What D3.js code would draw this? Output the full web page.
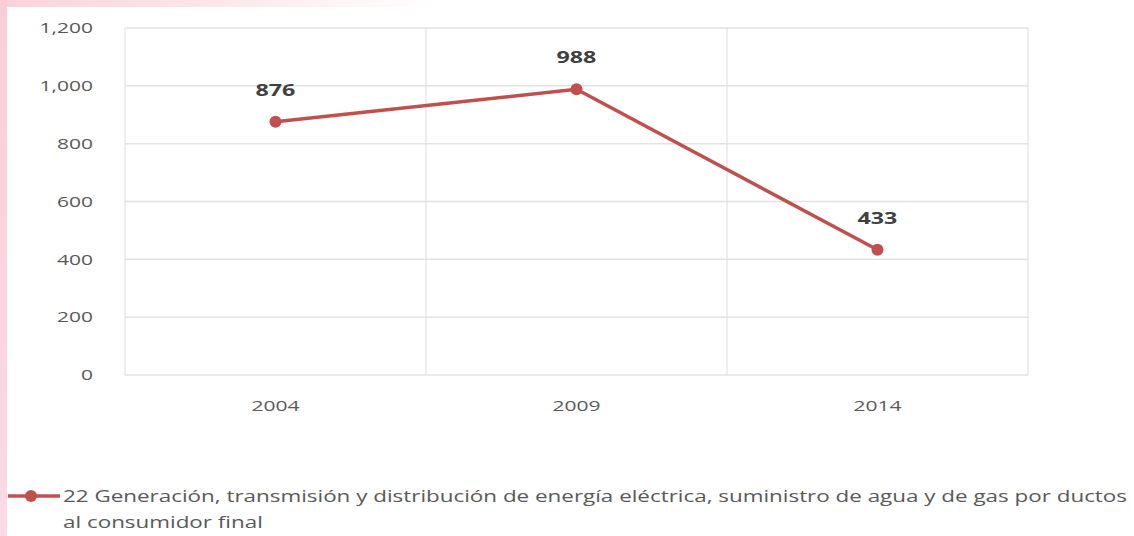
<!DOCTYPE html>
<html>
<head>
<meta charset="utf-8">
<script src="https://cdn.jsdelivr.net/npm/d3@7"></script>
<style>
  body { margin: 0; background: #fff; }
  svg { display: block; font-family: "Open Sans", "Noto Sans", sans-serif; }
</style>
</head>
<body>
<div id="chart"></div>
<script>
// Data
var years = ["2004", "2009", "2014"];
var values = [876, 988, 433];
var yTicks = [0, 200, 400, 600, 800, 1000, 1200];
var seriesName = "22 Generación, transmisión y distribución de energía eléctrica, suministro de agua y de gas por ductos";
var seriesName2 = "al consumidor final";

var W = 1134, H = 536;
var margin = { top: 28, right: 106, bottom: 161, left: 125 };
var width = W - margin.left - margin.right;
var height = H - margin.top - margin.bottom;
var lineColor = "#c0504d";

// the picture's text is drawn wide, so stretch glyphs sideways
function stretch(sel, k) {
  sel.each(function() {
    var len = this.getComputedTextLength();
    d3.select(this)
      .attr("textLength", len * k)
      .attr("lengthAdjust", "spacingAndGlyphs");
  });
}

var svg = d3.select("#chart").append("svg")
  .attr("width", W)
  .attr("height", H);

// pinkish edges of the page
var defs = svg.append("defs");
var gTop = defs.append("linearGradient").attr("id", "topFade").attr("x1", 0).attr("x2", 1);
gTop.append("stop").attr("offset", "0%").attr("stop-color", "#f9d3da");
gTop.append("stop").attr("offset", "40%").attr("stop-color", "#fbe3e7");
gTop.append("stop").attr("offset", "100%").attr("stop-color", "#ffffff");
var gLeft = defs.append("linearGradient").attr("id", "leftFade").attr("x1", 0).attr("x2", 0).attr("y1", 0).attr("y2", 1);
gLeft.append("stop").attr("offset", "0%").attr("stop-color", "#f8cfd6");
gLeft.append("stop").attr("offset", "100%").attr("stop-color", "#fbd9e6");

svg.append("rect").attr("x", 0).attr("y", 0).attr("width", 440).attr("height", 7).attr("fill", "url(#topFade)");
svg.append("rect").attr("x", 0).attr("y", 0).attr("width", 7).attr("height", H).attr("fill", "url(#leftFade)");

var g = svg.append("g").attr("transform", "translate(" + margin.left + "," + margin.top + ")");

var x = d3.scaleBand().domain(years).range([0, width]);
var y = d3.scaleLinear().domain([0, 1200]).range([height, 0]);

// horizontal grid
g.selectAll(".hgrid").data(yTicks).enter().append("line")
  .attr("class", "hgrid")
  .attr("x1", 0).attr("x2", width)
  .attr("y1", function(d) { return y(d); })
  .attr("y2", function(d) { return y(d); })
  .style("stroke", "#e3e3e3")
  .style("stroke-width", "1.5px");

// vertical grid at category boundaries
var bounds = [0].concat(years.map(function(d) { return x(d) + x.bandwidth(); }));
g.selectAll(".vgrid").data(bounds).enter().append("line")
  .attr("class", "vgrid")
  .attr("x1", function(d) { return d; }).attr("x2", function(d) { return d; })
  .attr("y1", 0).attr("y2", height)
  .style("stroke", "#dcdcdc")
  .style("stroke-width", "1px");

// y axis labels
var yAxis = g.append("g")
  .attr("transform", "translate(-32,0)")
  .call(d3.axisLeft(y).tickValues(yTicks).tickSize(0).tickFormat(d3.format(",")));
yAxis.select(".domain").remove();
yAxis.selectAll("text")
  .attr("x", 0)
  .style("font-family", "'Open Sans', sans-serif")
  .style("font-size", "15px")
  .style("fill", "#595959")
  .call(stretch, 1.4);

// x axis labels
var xAxis = g.append("g")
  .attr("transform", "translate(0," + (height + 22) + ")")
  .call(d3.axisBottom(x).tickSize(0));
xAxis.select(".domain").remove();
xAxis.selectAll("text")
  .style("font-family", "'Open Sans', sans-serif")
  .style("font-size", "15px")
  .style("fill", "#595959")
  .call(stretch, 1.4);

// line
var line = d3.line()
  .x(function(d, i) { return x(years[i]) + x.bandwidth() / 2; })
  .y(function(d) { return y(d); });

g.append("path")
  .datum(values)
  .attr("d", line)
  .style("fill", "none")
  .style("stroke", lineColor)
  .style("stroke-width", "3.5px");

g.selectAll(".dot").data(values).enter().append("circle")
  .attr("class", "dot")
  .attr("cx", function(d, i) { return x(years[i]) + x.bandwidth() / 2; })
  .attr("cy", function(d) { return y(d); })
  .attr("r", 6)
  .style("fill", lineColor);

// value labels
g.selectAll(".val").data(values).enter().append("text")
  .attr("class", "val")
  .attr("x", function(d, i) { return x(years[i]) + x.bandwidth() / 2; })
  .attr("y", function(d) { return y(d) - 26; })
  .attr("text-anchor", "middle")
  .style("font-family", "'Open Sans', sans-serif")
  .style("font-weight", "bold")
  .style("font-size", "16px")
  .style("fill", "#404040")
  .text(function(d) { return d; })
  .call(stretch, 1.45);

// legend
var leg = svg.append("g").attr("transform", "translate(0,496)");
leg.append("line").attr("x1", 8).attr("x2", 60).attr("y1", 0).attr("y2", 0)
  .style("stroke", lineColor).style("stroke-width", "3.5px");
leg.append("circle").attr("cx", 31).attr("cy", 0).attr("r", 6).style("fill", lineColor);
var t1 = leg.append("text").attr("x", 63).attr("y", 6)
  .style("font-size", "17px").style("fill", "#595959")
  .text(seriesName);
var t2 = leg.append("text").attr("x", 63).attr("y", 32)
  .style("font-size", "17px").style("fill", "#595959")
  .text(seriesName2);
// fit first line to its width in the picture, same stretch for the second
var k = 1064 / t1.node().getComputedTextLength();
t1.call(stretch, k);
t2.call(stretch, k);
</script>
</body>
</html>
